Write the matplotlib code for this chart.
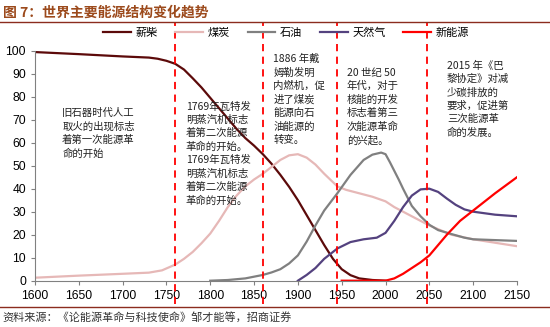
import matplotlib
matplotlib.use('Agg')
import matplotlib.pyplot as plt

plt.rcParams['font.family'] = ['Liberation Sans', 'Noto Sans CJK SC', 'DejaVu Sans']

# data
fw_years = [1600, 1650, 1700, 1730, 1740, 1750, 1760, 1770, 1780, 1790, 1800, 1810, 1820, 1830, 1840,
            1850, 1860, 1870, 1880, 1890, 1900, 1910, 1920, 1930, 1940, 1950, 1960, 1970, 1985, 2000]
fw_vals = [99.4, 98.5, 97.5, 97, 96.5, 95.6, 94.3, 91.8, 88, 84, 79.5, 75, 70.5, 66, 62,
           58.7, 55, 50.8, 46, 40.8, 35, 28.5, 22, 15.5, 9.5, 5, 2.4, 1, 0.3, 0]

coal_years = [1600, 1650, 1700, 1730, 1745, 1760, 1770, 1780, 1790, 1800, 1810, 1820, 1830, 1840, 1850,
              1860, 1870, 1880, 1890, 1900, 1910, 1920, 1930, 1945, 1955, 1970, 1985, 2000, 2010, 2025,
              2040, 2050, 2075, 2100, 2125, 2150]
coal_vals = [1.3, 2.2, 3, 3.5, 4.5, 7, 9.5, 12.5, 16.3, 20.5, 26, 32, 37, 41, 44,
             46.5, 49.5, 52.5, 54.5, 55, 53.5, 50.5, 46.5, 41, 39.5, 38, 36.5, 34.5, 32, 29,
             26, 24, 20, 18, 16.5, 15]

oil_years = [1800, 1820, 1840, 1860, 1870, 1880, 1890, 1900, 1910, 1920, 1930, 1945, 1960, 1975, 1985,
             1995, 2000, 2005, 2015, 2020, 2030, 2040, 2050, 2060, 2075, 2090, 2100, 2150]
oil_vals = [0, 0.3, 1, 2.5, 3.6, 5, 7.5, 11, 17, 24, 30.5, 38, 46, 52.5, 54.8,
            55.7, 55, 51.5, 44, 40, 32.5, 28, 24.3, 22, 20.3, 18.7, 18, 17.3]

gas_years = [1900, 1910, 1920, 1930, 1945, 1960, 1975, 1990, 2000, 2010, 2020, 2030, 2040, 2050, 2060,
             2070, 2080, 2090, 2100, 2125, 2150]
gas_vals = [0, 2.5, 5.5, 9.5, 14, 16.8, 18, 18.7, 20.8, 26, 32, 37, 39.7, 40, 38.6,
            35.7, 33, 31, 30, 28.7, 28]

new_years = [1950, 1975, 2000, 2010, 2020, 2030, 2040, 2050, 2060, 2070, 2085, 2100, 2125, 2150]
new_vals = [0, 0, 0, 1, 3, 5.5, 8, 11, 15.5, 20, 26, 30.5, 38, 45]

event_years = [1760, 1860, 1945, 2047]

notes = [
    (1631, 75, '旧石器时代人工\n取火的出现标志\n着第一次能源革\n命的开始'),
    (1772, 78, '1769年瓦特发\n明蒸汽机标志\n着第二次能源\n革命的开始。\n1769年瓦特发\n明蒸汽机标志\n着第二次能源\n革命的开始。'),
    (1872, 98.5, '1886 年戴\n姆勒发明\n内燃机，促\n进了煤炭\n能源向石\n油能源的\n转变。'),
    (1956, 92.5, '20 世纪 50\n年代，对于\n核能的开发\n标志着第三\n次能源革命\n的兴起。'),
    (2070, 95.7, '2015 年《巴\n黎协定》对减\n少碳排放的\n要求，促进第\n三次能源革\n命的发展。'),
]

fig = plt.figure(figsize=(5.5, 3.27), dpi=100)
ax = fig.add_axes([0.0636, 0.1416, 0.8764, 0.7034])

ax.plot(fw_years, fw_vals, color='#5c0a0a', lw=1.6, label='薪柴')
ax.plot(coal_years, coal_vals, color='#e6b8b7', lw=1.6, label='煤炭')
ax.plot(oil_years, oil_vals, color='#808080', lw=1.6, label='石油')
ax.plot(gas_years, gas_vals, color='#54427f', lw=1.6, label='天然气')
ax.plot(new_years, new_vals, color='#ff0000', lw=1.6, label='新能源')

for yr in event_years:
    ax.plot([yr, yr], [-10, 112.5], color='#ff0000', lw=1.3, ls=(0, (4, 3)), clip_on=False, zorder=5)

for x, y, t in notes:
    ax.text(x, y, t, fontsize=7.5, va='top', ha='left', linespacing=1.4,
            family=['Noto Sans CJK SC', 'DejaVu Sans'], color='#222222')

ax.set_xlim(1600, 2150)
ax.set_ylim(0, 100)
ax.set_xticks(range(1600, 2151, 50))
ax.set_yticks(range(0, 101, 10))
ax.tick_params(labelsize=8.7, length=3, color='#808080')
ax.spines['top'].set_visible(False)
ax.spines['right'].set_visible(False)
ax.spines['left'].set_color('#808080')
ax.spines['bottom'].set_color('#808080')

fig.legend(loc='center', bbox_to_anchor=(0.52, 0.899), ncol=5, frameon=False,
           prop={'family': ['Noto Sans CJK SC', 'DejaVu Sans'], 'size': 8},
           handlelength=2.5, columnspacing=1.6, handletextpad=0.4)

fig.text(0.005, 0.963, '图 7：世界主要能源结构变化趋势', fontsize=10, fontweight='bold',
         color='#9c4a1c', va='center', family=['Noto Sans CJK SC', 'DejaVu Sans'])
fig.add_artist(plt.Line2D([0, 1], [1 - 22 / 327, 1 - 22 / 327], color='#8b2c1e', lw=1.0))
fig.add_artist(plt.Line2D([0, 1], [1 - 306.5 / 327, 1 - 306.5 / 327], color='#8b2c1e', lw=1.0))
fig.text(0.005, 1 - 317 / 327, '资料来源：《论能源革命与科技使命》邹才能等，招商证券', fontsize=8,
         color='#333333', va='center', family=['Noto Sans CJK SC', 'DejaVu Sans'])

fig.savefig('out.png', dpi=100)
